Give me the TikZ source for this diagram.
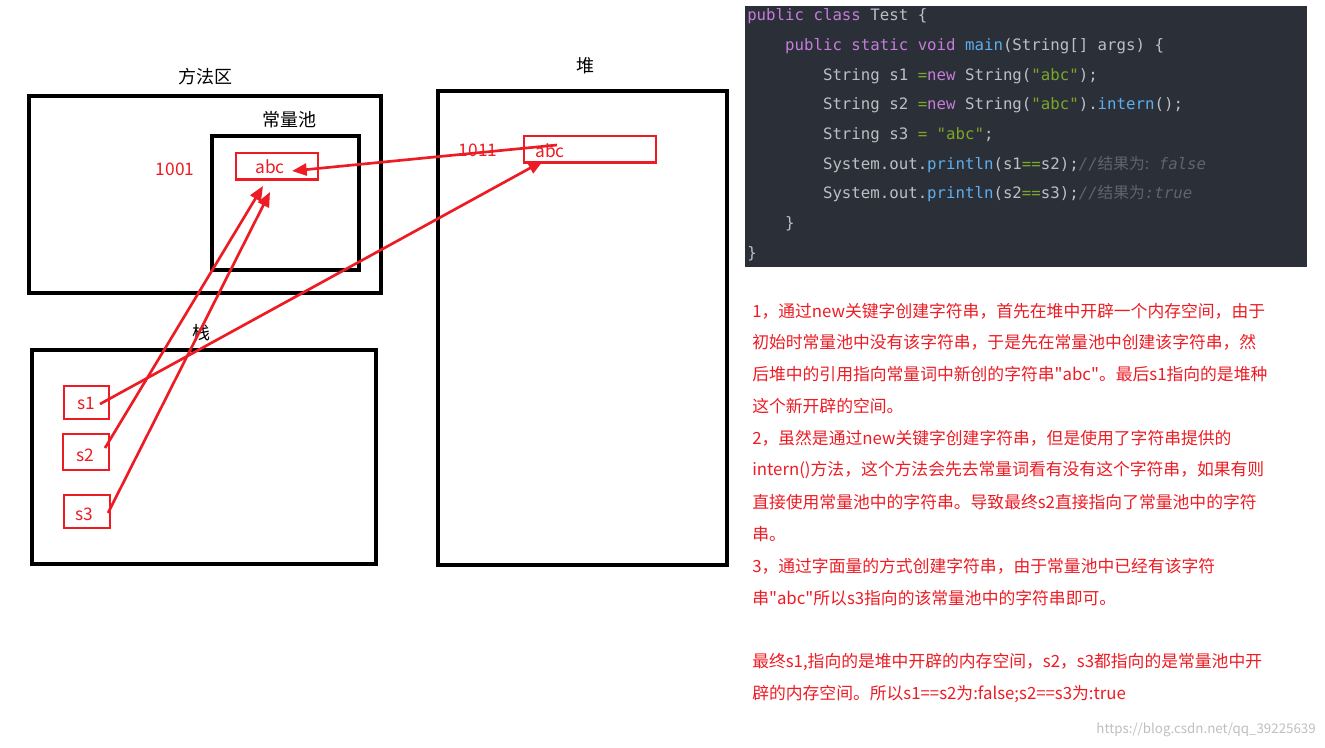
\documentclass[tikz,border=0pt]{standalone}
\usepackage{fontspec}
\setmonofont{DejaVu Sans Mono}
\newfontfamily\cjk{Noto Sans CJK SC}
\usetikzlibrary{arrows.meta}
\definecolor{rd}{HTML}{ED1C24}
\definecolor{cbg}{HTML}{2B2F37}
\definecolor{kw}{HTML}{C67CDA}
\definecolor{tx}{HTML}{BBBFC6}
\definecolor{gr}{HTML}{7AA62A}
\definecolor{bl}{HTML}{5FAEEC}
\definecolor{cm}{HTML}{5F646E}
\newcommand{\K}[1]{\textcolor{kw}{#1}}
\newcommand{\G}[1]{\textcolor{gr}{#1}}
\newcommand{\B}[1]{\textcolor{bl}{#1}}
\newcommand{\C}[1]{\textcolor{cm}{\itshape #1}}
\begin{document}
\begin{tikzpicture}[x=0.75pt,y=-0.75pt,
  blk/.style={draw=black,line width=3.6pt},
  rbox/.style={draw=rd,line width=2pt},
  lbl/.style={font=\cjk\fontsize{13.5}{15}\selectfont},
  rlbl/.style={font=\cjk\fontsize{13}{15}\selectfont,text=rd},
  arr/.style={draw=rd,line width=2pt,-{Triangle[length=11pt,width=9pt]}},
  code/.style={anchor=west,inner sep=0,font=\ttfamily\fontsize{11.8}{13}\selectfont,text=tx},
  para/.style={anchor=west,inner sep=0,font=\cjk\fontsize{12.6}{15}\selectfont,text=rd}]
\useasboundingbox (0,0) rectangle (1325,748);
\fill[white] (0,0) rectangle (1325,748);
% method area
\draw[blk] (29,96) rectangle (381,293);
\node[lbl] (ma) at (205,77) {方法区};
\draw[blk] (212,136) rectangle (359,270);
\node[lbl] (cp) at (289,120) {常量池};
\node[rbox,minimum width=61.5pt,minimum height=20pt,inner sep=0] (pabc) at (277,166.5) {};
\node[rlbl] at (270,167) {abc};
\node[rlbl] (n1001) at (175,169) {1001};
% heap
\draw[blk] (438,91) rectangle (727,565);
\node[lbl] (hp) at (585,66) {堆};
\node[rbox,minimum width=99pt,minimum height=20pt,inner sep=0] (habc) at (590,149.5) {};
\node[rlbl] at (550,151) {abc};
\node[rlbl] (n1011) at (478,150) {1011};
% stack
\draw[blk] (32,350) rectangle (376,564);
\node[lbl] (st) at (201,333) {栈};
\node[rbox,minimum width=33.75pt,minimum height=24.75pt,inner sep=0] (s1) at (86.5,402.5) {};
\node[rlbl] at (86,403) {s1};
\node[rbox,minimum width=34.5pt,minimum height=27pt,inner sep=0] (s2) at (86,452) {};
\node[rlbl] at (85,455) {s2};
\node[rbox,minimum width=34.5pt,minimum height=24.75pt,inner sep=0] (s3) at (87,511.5) {};
\node[rlbl] at (84,514) {s3};
% arrows
\coordinate (h0) at (557,145);
\coordinate (p0) at (292,171);
\draw[arr] (h0) -- (p0);
\coordinate (a1) at (100,404);
\coordinate (b1) at (543,161);
\draw[arr] (a1) -- (b1);
\coordinate (a2) at (105,448);
\coordinate (b2) at (263,186);
\draw[arr] (a2) -- (b2);
\coordinate (a3) at (108,513);
\coordinate (b3) at (270,192);
\draw[arr] (a3) -- (b3);
% code block
\fill[cbg] (745,6) rectangle (1307,267);
\node[code] (c1) at (747,16) {\K{public class} Test \{};
\node[code] (c2) at (747,46) {\ \ \ \ \K{public static void} \B{main}(String[] args) \{};
\node[code] (c3) at (747,76) {\ \ \ \ \ \ \ \ String s1 \G{=}\K{new} String(\G{"abc"});};
\node[code] (c4) at (747,105) {\ \ \ \ \ \ \ \ String s2 \G{=}\K{new} String(\G{"abc"}).\B{intern}();};
\node[code] (c5) at (747,135) {\ \ \ \ \ \ \ \ String s3 \G{=} \G{"abc"};};
\node[code] (c6) at (747,165) {\ \ \ \ \ \ \ \ System.out.\B{println}(s1\G{==}s2);\C{//{\cjk 结果为:} false}};
\node[code] (c7) at (747,194) {\ \ \ \ \ \ \ \ System.out.\B{println}(s2\G{==}s3);\C{//{\cjk 结果为}:true}};
\node[code] (c8) at (747,224) {\ \ \ \ \}};
\node[code] (c9) at (747,254) {\}};
% paragraph
\node[para] at (752,311) {1，通过new关键字创建字符串，首先在堆中开辟一个内存空间，由于};
\node[para] at (752,342) {初始时常量池中没有该字符串，于是先在常量池中创建该字符串，然};
\node[para] at (752,374) {后堆中的引用指向常量词中新创的字符串"abc"。最后s1指向的是堆种};
\node[para] at (752,406) {这个新开辟的空间。};
\node[para] at (752,438) {2，虽然是通过new关键字创建字符串，但是使用了字符串提供的};
\node[para] at (752,470) {intern()方法，这个方法会先去常量词看有没有这个字符串，如果有则};
\node[para] at (752,502) {直接使用常量池中的字符串。导致最终s2直接指向了常量池中的字符};
\node[para] at (752,534) {串。};
\node[para] at (752,566) {3，通过字面量的方式创建字符串，由于常量池中已经有该字符};
\node[para] at (752,598) {串"abc"所以s3指向的该常量池中的字符串即可。};
\node[para] at (752,662) {最终s1,指向的是堆中开辟的内存空间，s2，s3都指向的是常量池中开};
\node[para] at (752,694) {辟的内存空间。所以s1==s2为:false;s2==s3为:true};
\node[anchor=east,inner sep=0,font=\cjk\fontsize{10}{12}\selectfont,text=black!25] at (1316,730) {https://blog.csdn.net/qq\_39225639};
\end{tikzpicture}
\end{document}
